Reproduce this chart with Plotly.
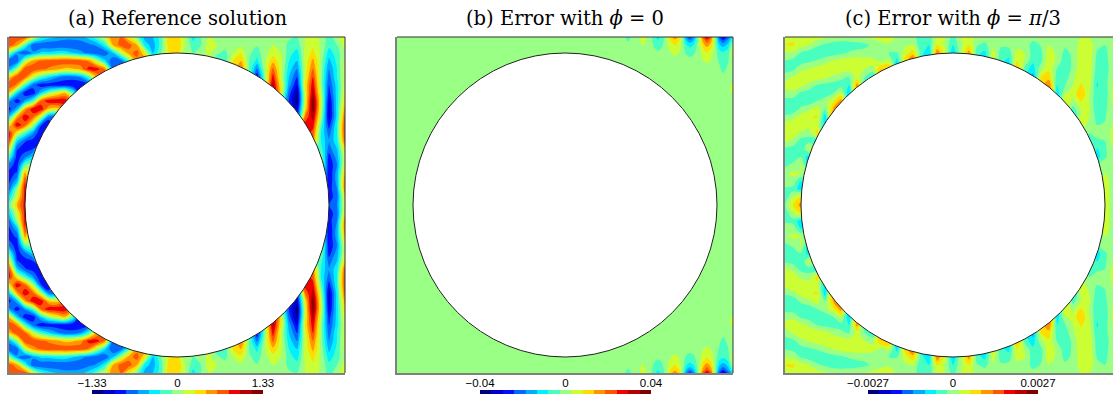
import numpy as np
import plotly.graph_objects as go

W, H = 1113, 394
TITLES = ["(a) Reference solution", "(b) Error with <i>ϕ</i> = 0", "(c) Error with <i>ϕ</i> = <i>π</i>/3"]
LIMITS = [1.33, 0.04, 0.0027]
BAR_TICKS = [["−1.33", "0", "1.33"], ["−0.04", "0", "0.04"], ["−0.0027", "0", "0.0027"]]
COLORS = ["#00007F", "#0000C8", "#0010FF", "#0068FF", "#00ACFF", "#00F0FF", "#48FFC0", "#9AFF85",
          "#CCFF33", "#FFDD00", "#FF9600", "#FF5500", "#F00000", "#B40000", "#7F0000"]
LEVELS = list(range(-7, 8))

# Band levels, top half of each panel, column by column (rows every 8 px downward from the frame top).
GRID_X = list(range(0, 337, 8))
GRID_Y = list(range(0, 169, 8))

A_COLS = [
 [3.5,4.2,0,-4.3,-3.2,2.3,4.3,2.3,-3.2,-5,-2.3,1.6,5,4.4,1.6,-1,-4,-4.8,-4.8,-4,-2.3,-1],
 [4.3,2.8,-3.3,-4.3,0,4.3,3.3,-2.3,-5.2,-2.8,2.8,5.3,1.6,-2.3,-4.4,-5,-5,-4.4,-2.8,0,1,2.5],
 [4.3,-1,-4.5,.5,4.3,3.8,-1,-5.2,-3.3,2.8,5.3,3.8,-1,-4.4,-5,-3.8,-.5,2.8,4.4,5,5,5],
 [1.5,-4.3,-3.3,2.8,4.5,1,-4,-5.2,-1,5.3,3.8,.5,-3.3,-5,-4.5,-2],
 [-1,-4.5,-2.2,3.8,3.8,-1,-5.2,-2.3,3.8,5.3,.5,-4.4,-5.5,-5],
 [-2,-4.5,-2.2,4.2,3.3,-2.2,-5.2,0,5.3,2.2,-4,-5.5,-5],
 [-2.5,-4.5,-1.8,4.3,2.8,-3.3,-5.2,1.4,5.3,2,-4],
 [-3,-4.5,-1.8,4.4,2.2,-4,-5.2,2.4,5.3,3],
 [-3,-4.5,-2.4,4.4,2.4,-4,-5.5,-1,3],
 [-2.8,-4.3,-3.2,4.2,3,-3.3,-5.5,-5],
 [-2,-3.8,-3.8,3.3,5,-1,-4.5],
 [-.5,-3.3,-4.3,.5,5,2.5],
 [1,-1.5,-4.3,-2.2,3.3,5],
 [3.5,2.5,-2.5,-4.5,-4,-3],
 [3.5,4,.5,-4,-5],
 [1.5,4,3,-1,-3],
 [-.5,2.5,4,3],
 [-3,-2,1.5,3],
 [-2.5,-3,-2.5,-1],
 [-1,-1,-.5,0],
 [2.5,2,1.5,1],
 [2,2.5,2,2],
 [.5,.5,0,0],
 [-2,-1,-.5,0],
 [-.5,-.5,0,0],
 [.5,1,.8,.8],
 [.5,.5,-.3,-1],
 [0,0,-.8,-1.2,-1.2],
 [0,0,.5,1.5,1.5],
 [0,.3,1.3,2.5,3.5],
 [0,0,-.3,-.5,-.5,0],
 [0,-.4,-1,-1.8,-3.6,-5.5,-5],
 [0,0,.2,.4,.3,0,0],
 [.2,.5,1,2.2,3.8,5,6,6],
 [0,.2,.5,.8,.8,.8,1.5,1.5,0],
 [-.3,-.8,-1,-1.5,-2,-2.5,-3,-4,-4.5,-4],
 [-.5,-1,-2,-2.5,-3.5,-4.5,-5.5,-6.7,-7,-6,-5],
 [.5,.5,.8,.8,.8,1,1.5,1,1,1.5,3.5,5,5],
 [1,1.3,1.8,2.8,3.6,4.5,5.3,6,7,7,6,5,4,3],
 [.3,.3,.3,.2,0,0,0,.5,1,.8,.3,-.8,-1.5,-1.5,-1,0,1],
 [-1,-1.2,-2,-2.8,-3.5,-4,-4.5,-5,-5.8,-6,-6,-5,-4,-3.5,-4,-5,-5.5,-5.5,-5.5,-5,-5,-4.5],
 [.2,-.5,-1,-1.2,-1.5,-1.5,-2,-2,-2,-2,-2,-1.5,-1.5,-1.8,-2.5,-3,-3.5,-3,-3,-3.5,-4,-3.5],
 [1.5,1,.5,.8,1,1,1.2,1.5,2,3,4,4.5,4.5,4,2,1.2,1.5,2.5,3.5,3.5,2,1.5],
]

# Panel (b): only the lobes near the top right carry any level; irregular grid.
B_X = [0,222,231,239,246,253,257,261,265,269,273.5,278,282,285.5,289,293,297,301.5,306,310,314,318,322,326,331,336]
B_Y = [0,3,6,10,15,20,26,36,46,54,62]
B_COLS = [
 [0],[0],
 [-.8,-.6,-.4,-.1],
 [0],
 [1,.8,.7,.4,.1],
 [0],
 [-1.2,-1,-.7,-.5,-.2],
 [-1.8,-1.5,-1.1,-.8,-.4,-.1],
 [-1.2,-1,-.7,-.5,-.2],
 [0],
 [2.2,1.6,1.2,.9,.5,.2],
 [3.2,2.3,1.8,1.3,.8,.4,.1],
 [2.2,1.6,1.2,.9,.5,.2],
 [0],
 [-3.3,-2.4,-1.7,-1.1,-.7,-.3,-.1],
 [-4.8,-3.5,-2.5,-1.6,-1,-.5,-.2],
 [-3.3,-2.4,-1.7,-1.1,-.7,-.3,-.1],
 [0],
 [4,3,2.4,1.7,1,.7,.3],
 [5.8,4.3,3.5,2.5,1.5,1,.5,.1],
 [4,3,2.4,1.7,1,.7,.3],
 [0],
 [-4.2,-3.2,-2.5,-1.8,-1.1,-.8,-.5,-.3],
 [-6,-4.5,-3.5,-2.5,-1.5,-1.1,-.8,-.5,-.1],
 [-4.2,-3.2,-2.5,-1.8,-1,-.7,-.5,-.3,0,.3],
 [-2,-.8,0,.7,1,.6,0,0,.6,.8],
]

C_X = list(range(0, 329, 8))
C_COLS = [
 [1.2,1.5,.5,-.6,-1,0,.8,.2,-1,-1.2,-.3,1,1.2,.7,-.8,-1.2,-.8,.3,.5,-.8,-1.2,-.6],
 [1.3,1.6,.3,-.8,-.8,.6,1.2,.2,-1,-1.3,.2,1.3,1.1,.2,-1,-1.2,-.2,.7,.2,-.9,.5,1.5],
 [1.5,1,-.6,-1,.2,1.2,.9,-.7,-1.3,-.2,1,1.4,.3,-.9,-1.4,-.4,.6,.5,-1.5,-2,1.5,3],
 [1.2,.5,-1,-.7,.6,1.3,.2,-1,-1.2,.3,1.4,1.2,-.2,-.8,.8,-2.2,-2],
 [1,-.3,-1.2,-.4,1,1.2,-.5,-1.2,-.5,1,1.6,1,2,-2],
 [.7,-.7,-1.2,.1,1.2,.8,-.8,-1.2,.1,-.5,-2.2,-2,-2],
 [.3,-1,-1,.6,1.3,.3,-1,-.6,1.2,2.5,3],
 [.2,-1.1,-.7,.9,1.2,-.2,-1,.8,3,3],
 [.2,-1,-.4,1.1,1,-.6,-1.5,-2.5,-2],
 [.3,-.9,-.2,1.2,.8,1,3,3],
 [.5,-.7,-.2,1.1,.5,-.5,-1.5],
 [.8,-.3,-.3,.9,.2,-1.5],
 [1,.2,-.4,.3,2.5,3],
 [.9,.4,-.5,.8,2.5],
 [.4,.2,-.6,-2,-2],
 [-.2,.3,1,2],
 [-.2,.5,2.2,3.5],
 [-1,-1.2,-1,-1.5],
 [-1.2,-1.5,-2.5,-2.5],
 [.8,1.5,3.5,3.5],
 [.5,.4,1,1],
 [-1,-1.5,-2.5,-2.5],
 [.5,.3,.5,1],
 [1,1.5,3,3],
 [.2,-.4,-1.2,-1.5],
 [0,-.8,-1.8,-2],
 [0,.3,1,1.3],
 [0,-.3,-1,-1.3,-1.5],
 [0,-.2,-1,-1.8,-2.5],
 [0,0,1,1.5,3],
 [0,.2,.5,.3,-1,-1.5],
 [0,-1,-1,-1.3,-2,-3,-3],
 [0,-.4,-.8,-.8,.2,1.5,2],
 [.1,.5,1.2,1.4,1.3,2,3.5,4],
 [.2,.2,.2,.2,-.6,-1,-1.5,-2.2,-2.5],
 [.1,-.3,-.8,-1.1,-1.3,-1.1,-.6,.4,1.5,1.5],
 [.1,-.2,-.3,-.3,-.2,.3,.5,.8,.2,-1,-2],
 [.5,1,1.2,1.3,1.3,1.3,1.6,2.5,1.6,.6,.8,1],
 [.5,1.2,1.4,1.3,1.3,1.1,1,.6,.5,.7,.5,.2,-.5,-.5],
 [0,-.2,-.6,-.9,-1,-1.3,-1.6,-1.3,-1.4,-1.3,-.9,-.5,-.3,-.6,-1.6,-2],
 [-.2,-.5,-.9,-1,-1.1,-1,-.9,-1.2,-1,-.8,-.6,-.4,-.2,-.5,-.7,-.7,.2,.5,.8,1,1.5,1.5],
 [.3,.6,.4,.3,.2,.5,.6,.8,.7,.5,.4,.6,.8,.8,.5,.3,.2,.3,.2,.1,-.2,-.4],
]


def full_grid(cols, half_rows):
    n = len(half_rows)
    padded = [list(c) + [0] * (n - len(c)) for c in cols]
    return np.array([c + c[::-1] for c in padded], dtype=float).T


def full_grid_center(cols, half_rows):
    n = len(half_rows)
    padded = [list(c) + [0] * (n - len(c)) for c in cols]
    return np.array([c + c[-2::-1] for c in padded], dtype=float).T


FRAME_Y = (37, 373)
FRAME_X = [(9, 345), (397, 733), (785, 1113)]
X_RANGE = [(0, 336), (0, 336), (0, 328)]
BAR_X = [(92, 263), (480, 651), (868, 1038)]
BAR_Y = (390, 394)

panels = [
    (GRID_X, GRID_Y + [336 - v for v in GRID_Y[-2::-1]], full_grid_center(A_COLS, GRID_Y)),
    (B_X, B_Y + [336 - v for v in B_Y[::-1]], full_grid(B_COLS, B_Y)),
    (C_X, GRID_Y + [336 - v for v in GRID_Y[-2::-1]], full_grid_center(C_COLS, GRID_Y)),
]

scale = []
for i, c in enumerate(COLORS):
    scale += [[i / 15, c], [(i + 1) / 15, c]]

fig = go.Figure()
layout = dict(
    width=W, height=H, margin=dict(l=0, r=0, t=0, b=0, autoexpand=False),
    paper_bgcolor="white", plot_bgcolor="white", showlegend=False,
)
shapes, annotations = [], []

for i in range(3):
    n_main = 2 * i + 1
    n_bar = 2 * i + 2
    xa, ya = f"x{n_main}", f"y{n_main}"
    xb, yb = f"x{n_bar}", f"y{n_bar}"
    lim = LIMITS[i]
    unit = lim / 7.5
    xs, ys, zz = panels[i]
    fig.add_trace(go.Contour(
        x=xs, y=ys, z=(zz * unit).tolist(), xaxis=xa, yaxis=ya,
        zmin=-lim, zmax=lim, autocontour=False,
        contours=dict(start=-6.5 * unit, end=6.5 * unit, size=unit, coloring="fill", showlines=False),
        line=dict(width=0), colorscale=scale, showscale=False, hoverinfo="skip",
    ))
    edges = [(k - 7.5) * unit for k in range(16)]
    fig.add_trace(go.Heatmap(
        x=edges, y=[0, 1], z=[[v * unit for v in LEVELS]], xaxis=xb, yaxis=yb,
        zmin=-lim, zmax=lim, colorscale=scale, showscale=False, hoverinfo="skip",
    ))
    fx0, fx1 = FRAME_X[i]
    layout[f"xaxis{n_main}"] = dict(
        domain=[fx0 / W, fx1 / W], range=list(X_RANGE[i]), anchor=ya, automargin=False,
        showgrid=False, zeroline=False, showticklabels=False, ticks="",
        showline=True, linecolor="#808080", linewidth=2,
    )
    layout[f"yaxis{n_main}"] = dict(
        domain=[1 - FRAME_Y[1] / H, 1 - FRAME_Y[0] / H], range=[336, 0], anchor=xa, automargin=False,
        showgrid=False, zeroline=False, showticklabels=False, ticks="",
        showline=True, linecolor="#808080", linewidth=2,
    )
    bx0, bx1 = BAR_X[i]
    layout[f"xaxis{n_bar}"] = dict(
        domain=[bx0 / W, bx1 / W], range=[-lim, lim], anchor=yb, side="top", automargin=False,
        tickvals=[-lim, 0, lim], ticktext=BAR_TICKS[i], ticks="", ticklen=0,
        tickfont=dict(family="Liberation Sans", size=11.5, color="#000000"),
        showgrid=False, zeroline=False, showline=False, ticklabeloverflow="allow",
    )
    layout[f"yaxis{n_bar}"] = dict(
        domain=[0, (H - BAR_Y[0]) / H], range=[0, 1], anchor=xb, automargin=False,
        showgrid=False, zeroline=False, showticklabels=False, ticks="",
    )
    shapes.append(dict(type="circle", xref=xa, yref=ya, x0=16, x1=320, y0=16, y1=320,
                       fillcolor="white", line=dict(color="#222222", width=1), layer="above"))
    shapes.append(dict(type="line", xref="paper", yref="paper", x0=fx0 / W, x1=fx1 / W,
                       y0=1 - FRAME_Y[0] / H, y1=1 - FRAME_Y[0] / H, line=dict(color="#333333", width=1)))
    if i < 2:
        shapes.append(dict(type="line", xref="paper", yref="paper", x0=fx1 / W, x1=fx1 / W,
                           y0=1 - FRAME_Y[0] / H, y1=1 - FRAME_Y[1] / H, line=dict(color="#333333", width=1)))
    cx = (fx0 + 168) / W
    annotations.append(dict(text=TITLES[i], x=cx, y=1 - 18 / H, xref="paper", yref="paper",
                            showarrow=False, xanchor="center", yanchor="middle",
                            font=dict(family="DejaVu Serif", size=19.5, color="#000000")))

layout["shapes"] = shapes
layout["annotations"] = annotations
fig.update_layout(**layout)
fig.write_html("out.html", config={"displayModeBar": False}, post_script="document.body.style.margin='0';")
